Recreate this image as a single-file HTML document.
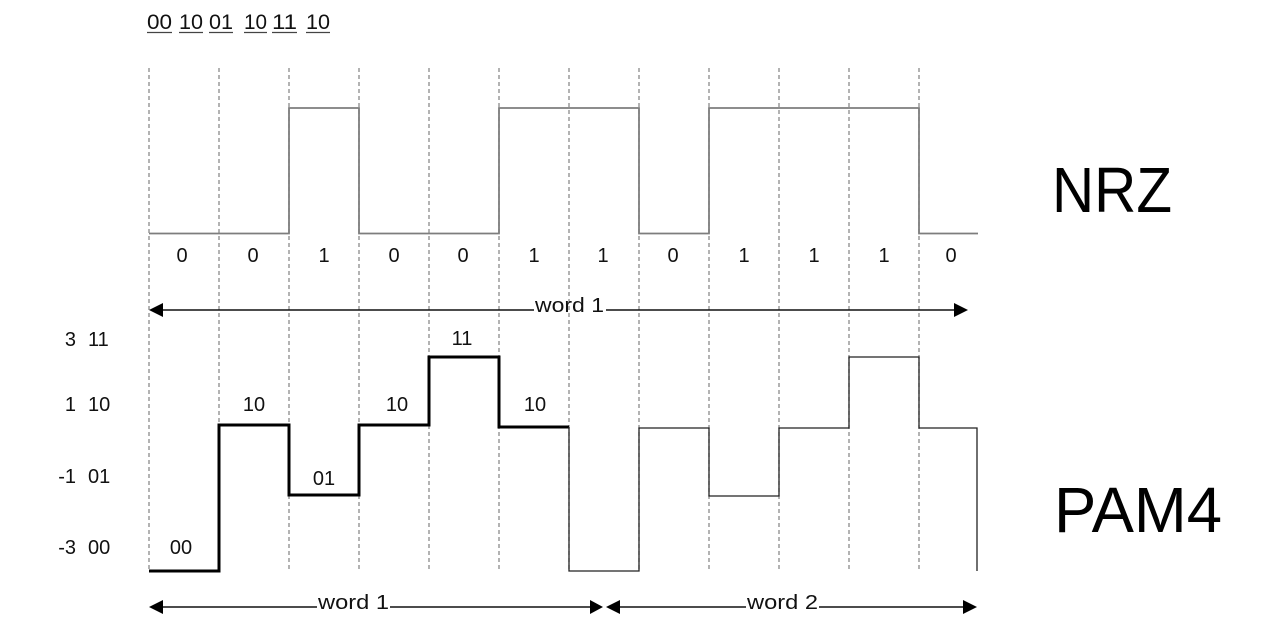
<!DOCTYPE html>
<html>
<head>
<meta charset="utf-8">
<style>
  html,body{margin:0;padding:0;background:#fff;}
  svg{display:block;}
  text{font-family:"Liberation Sans", "DejaVu Sans", sans-serif; fill:#111;}
</style>
</head>
<body>
<svg width="1280" height="639" viewBox="0 0 1280 639" xmlns="http://www.w3.org/2000/svg">
  <rect width="1280" height="639" fill="#fff"/>

  <!-- top bit-pair text with underlines -->
  <g font-size="21">
    <text x="147" y="29" textLength="25" lengthAdjust="spacingAndGlyphs">00</text>
    <text x="179" y="29" textLength="24" lengthAdjust="spacingAndGlyphs">10</text>
    <text x="209" y="29" textLength="24" lengthAdjust="spacingAndGlyphs">01</text>
    <text x="244" y="29" textLength="23" lengthAdjust="spacingAndGlyphs">10</text>
    <text x="272" y="29" textLength="25" lengthAdjust="spacingAndGlyphs">11</text>
    <text x="306" y="29" textLength="24" lengthAdjust="spacingAndGlyphs">10</text>
  </g>
  <g stroke="#444" stroke-width="1.3">
    <line x1="147" y1="32.5" x2="172" y2="32.5"/>
    <line x1="179" y1="32.5" x2="203" y2="32.5"/>
    <line x1="209" y1="32.5" x2="233" y2="32.5"/>
    <line x1="244" y1="32.5" x2="267" y2="32.5"/>
    <line x1="272" y1="32.5" x2="297" y2="32.5"/>
    <line x1="306" y1="32.5" x2="330" y2="32.5"/>
  </g>

  <!-- dashed vertical grid -->
  <g stroke="#8a8a8a" stroke-width="1.3" stroke-dasharray="4 3">
    <line x1="149" y1="68" x2="149" y2="572"/>
    <line x1="219" y1="68" x2="219" y2="572"/>
    <line x1="289" y1="68" x2="289" y2="572"/>
    <line x1="359" y1="68" x2="359" y2="572"/>
    <line x1="429" y1="68" x2="429" y2="572"/>
    <line x1="499" y1="68" x2="499" y2="572"/>
    <line x1="569" y1="68" x2="569" y2="572"/>
    <line x1="639" y1="68" x2="639" y2="572"/>
    <line x1="709" y1="68" x2="709" y2="572"/>
    <line x1="779" y1="68" x2="779" y2="572"/>
    <line x1="849" y1="68" x2="849" y2="572"/>
    <line x1="919" y1="68" x2="919" y2="572"/>
  </g>

  <!-- NRZ waveform -->
  <polyline fill="none" stroke="#7d7d7d" stroke-width="1.8"
    points="149,233.5 289,233.5 289,108 359,108 359,233.5 499,233.5 499,108 639,108 639,233.5 709,233.5 709,108 919,108 919,233.5 978,233.5"/>

  <!-- NRZ bit labels -->
  <g font-size="20" text-anchor="middle">
    <text x="182" y="262">0</text>
    <text x="253" y="262">0</text>
    <text x="324" y="262">1</text>
    <text x="394" y="262">0</text>
    <text x="463" y="262">0</text>
    <text x="534" y="262">1</text>
    <text x="603" y="262">1</text>
    <text x="673" y="262">0</text>
    <text x="744" y="262">1</text>
    <text x="814" y="262">1</text>
    <text x="884" y="262">1</text>
    <text x="951" y="262">0</text>
  </g>

  <!-- NRZ word 1 arrow -->
  <g stroke="#111" stroke-width="1.6">
    <line x1="160" y1="310" x2="534" y2="310"/>
    <line x1="606" y1="310" x2="956" y2="310"/>
  </g>
  <polygon points="149,310 163,303 163,317" fill="#000"/>
  <polygon points="968,310 954,303 954,317" fill="#000"/>
  <text x="535" y="312" font-size="20" textLength="69" lengthAdjust="spacingAndGlyphs">word 1</text>

  <!-- big labels -->
  <text x="1052" y="212" font-size="64" textLength="120" lengthAdjust="spacingAndGlyphs" style="fill:#000">NRZ</text>
  <text x="1054" y="532" font-size="64" textLength="168" lengthAdjust="spacingAndGlyphs" style="fill:#000">PAM4</text>

  <!-- PAM4 level labels -->
  <g font-size="20">
    <text x="76" y="346" text-anchor="end">3</text>
    <text x="88" y="346">11</text>
    <text x="76" y="411" text-anchor="end">1</text>
    <text x="88" y="411">10</text>
    <text x="76" y="483" text-anchor="end">-1</text>
    <text x="88" y="483">01</text>
    <text x="76" y="554" text-anchor="end">-3</text>
    <text x="88" y="554">00</text>
  </g>

  <!-- PAM4 symbol labels -->
  <g font-size="20" text-anchor="middle">
    <text x="181" y="554">00</text>
    <text x="254" y="411">10</text>
    <text x="324" y="485">01</text>
    <text x="397" y="411">10</text>
    <text x="462" y="345">11</text>
    <text x="535" y="411">10</text>
  </g>

  <!-- PAM4 waveform word 1 (thick) -->
  <polyline fill="none" stroke="#000" stroke-width="3" stroke-linejoin="miter"
    points="149,571 219,571 219,425 289,425 289,495 359,495 359,425 429,425 429,357 499,357 499,427 569,427"/>
  <!-- PAM4 waveform word 2 (thin) -->
  <polyline fill="none" stroke="#222" stroke-width="1.3"
    points="569,427 569,571 639,571 639,428 709,428 709,496 779,496 779,428 849,428 849,357 919,357 919,428 977,428 977,571"/>

  <!-- bottom arrows -->
  <g stroke="#111" stroke-width="1.6">
    <line x1="160" y1="607" x2="317" y2="607"/>
    <line x1="390" y1="607" x2="592" y2="607"/>
    <line x1="618" y1="607" x2="746" y2="607"/>
    <line x1="819" y1="607" x2="965" y2="607"/>
  </g>
  <polygon points="149,607 163,600 163,614" fill="#000"/>
  <polygon points="603,607 590,600 590,614" fill="#000"/>
  <polygon points="606,607 620,600 620,614" fill="#000"/>
  <polygon points="977,607 963,600 963,614" fill="#000"/>
  <text x="318" y="609" font-size="20" textLength="71" lengthAdjust="spacingAndGlyphs">word 1</text>
  <text x="747" y="609" font-size="20" textLength="71" lengthAdjust="spacingAndGlyphs">word 2</text>
</svg>
</body>
</html>
